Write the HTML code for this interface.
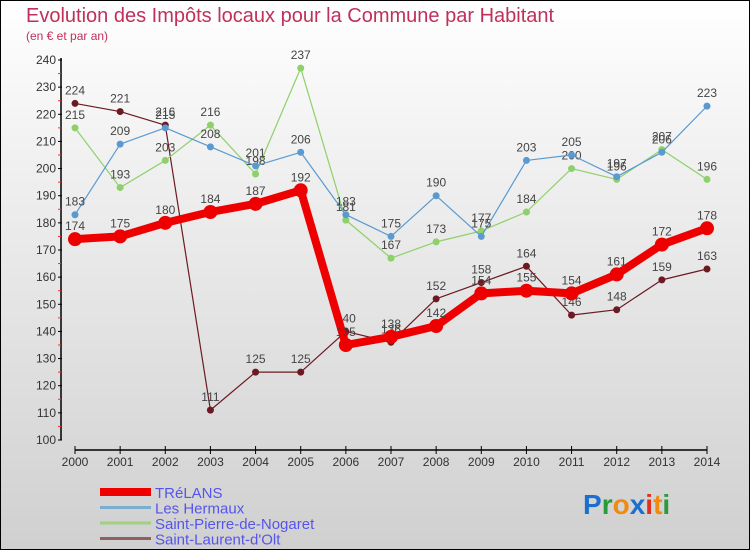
<!DOCTYPE html>
<html><head><meta charset="utf-8"><style>
body{margin:0}
#wrap{width:750px;height:550px;position:relative;box-sizing:border-box;border:1px solid #000;background:linear-gradient(#fff 0%,#f0f0f0 30%,#d0d0d0 100%);font-family:"Liberation Sans",sans-serif;overflow:hidden}
</style></head><body>
<div id="wrap">
<svg id="svg" width="750" height="550" style="position:absolute;left:-1px;top:-1px">
<text x="26" y="22" font-size="20" fill="#c0305a">Evolution des Impôts locaux pour la Commune par Habitant</text>
<text x="26" y="40" font-size="12" fill="#c0305a">(en € et par an)</text>
<g id="axes"></g><g id="series"></g><g id="legend"></g>
<text x="583" y="514" font-size="28" font-weight="bold"><tspan fill="#1a6fd0">P</tspan><tspan fill="#2a9a3a">r</tspan><tspan fill="#f08a10">o</tspan><tspan fill="#1a6fd0">x</tspan><tspan fill="#e03020">i</tspan><tspan fill="#f08a10">t</tspan><tspan fill="#2a9a3a">i</tspan></text>
</svg>
</div>
<script>
const years=[2000,2001,2002,2003,2004,2005,2006,2007,2008,2009,2010,2011,2012,2013,2014];
const yTicks=[100,110,120,130,140,150,160,170,180,190,200,210,220,230,240];
const trelans=[174,175,180,184,187,192,135,138,142,154,155,154,161,172,178];
const hermaux=[183,209,215,208,201,206,183,175,190,175,203,205,197,206,223];
const nogaret=[215,193,203,216,198,237,181,167,173,177,184,200,196,207,196];
const olt=[224,221,216,111,125,125,140,136,152,158,164,146,148,159,163];
const NS="http://www.w3.org/2000/svg";
const X=i=>75+i*(632/14);
const Y=v=>440-(v-100)*(380/140);
function mk(t,a,p){const e=document.createElementNS(NS,t);for(const k in a)e.setAttribute(k,a[k]);p.appendChild(e);return e;}
const ax=document.getElementById('axes');
let yl=mk('line',{x1:61,y1:58,x2:61,y2:440,stroke:'#000','stroke-width':1.5},ax);

yTicks.forEach(v=>{
 mk('line',{x1:58,y1:Y(v),x2:62,y2:Y(v),stroke:'#000'},ax);
 if(v<240)mk('line',{x1:58,y1:Y(v+5),x2:61,y2:Y(v+5),stroke:'#e33'},ax);
 const t=mk('text',{x:56,y:Y(v)+4,'font-size':12,fill:'#333','text-anchor':'end'},ax);t.textContent=v;
 
});
let xl=mk('line',{x1:75,y1:450,x2:707,y2:450,stroke:'#000','stroke-width':1.5},ax);

years.forEach((y,i)=>{
 mk('line',{x1:X(i),y1:446,x2:X(i),y2:454,stroke:'#000'},ax);
 const t=mk('text',{x:X(i),y:466,'font-size':12,fill:'#333','text-anchor':'middle'},ax);t.textContent=y;
 
});
const sg=document.getElementById('series');
function series(vals,color,w,r,name){
 const g=mk('g',{},sg);
 mk('polyline',{points:vals.map((v,i)=>X(i)+','+Y(v)).join(' '),fill:'none',stroke:color,'stroke-width':w,'stroke-linejoin':'round'},g);
 vals.forEach((v,i)=>{
  const c=mk('circle',{cx:X(i),cy:Y(v),r:r,fill:color},g);
  
  const t=mk('text',{x:X(i),y:Y(v)-9,'font-size':12,fill:'#444','text-anchor':'middle'},g);t.textContent=v;
 });
}
series(olt,'#6b1a22',1.2,3.5,'series-saint-laurent');
series(nogaret,'#8ed06a',1.2,3.5,'series-saint-pierre');
series(hermaux,'#5a9ad0',1.2,3.5,'series-les-hermaux');
series(trelans,'#ee0000',8,7,'series-trelans');
const lg=document.getElementById('legend');
[['TRéLANS','#ee0000',8],['Les Hermaux','#7aaed0',3],['Saint-Pierre-de-Nogaret','#a0d080',3],['Saint-Laurent-d\'Olt','#906060',3]].forEach((e,i)=>{
 const y=492+i*15.5;
 const g=mk('g',{},lg);
 mk('line',{x1:100,y1:y,x2:151,y2:y,stroke:e[1],'stroke-width':e[2]},g);
 const t=mk('text',{x:155,y:y+6,'font-size':15,fill:'#5555ee'},g);t.textContent=e[0];
});
</script>
</body></html>
